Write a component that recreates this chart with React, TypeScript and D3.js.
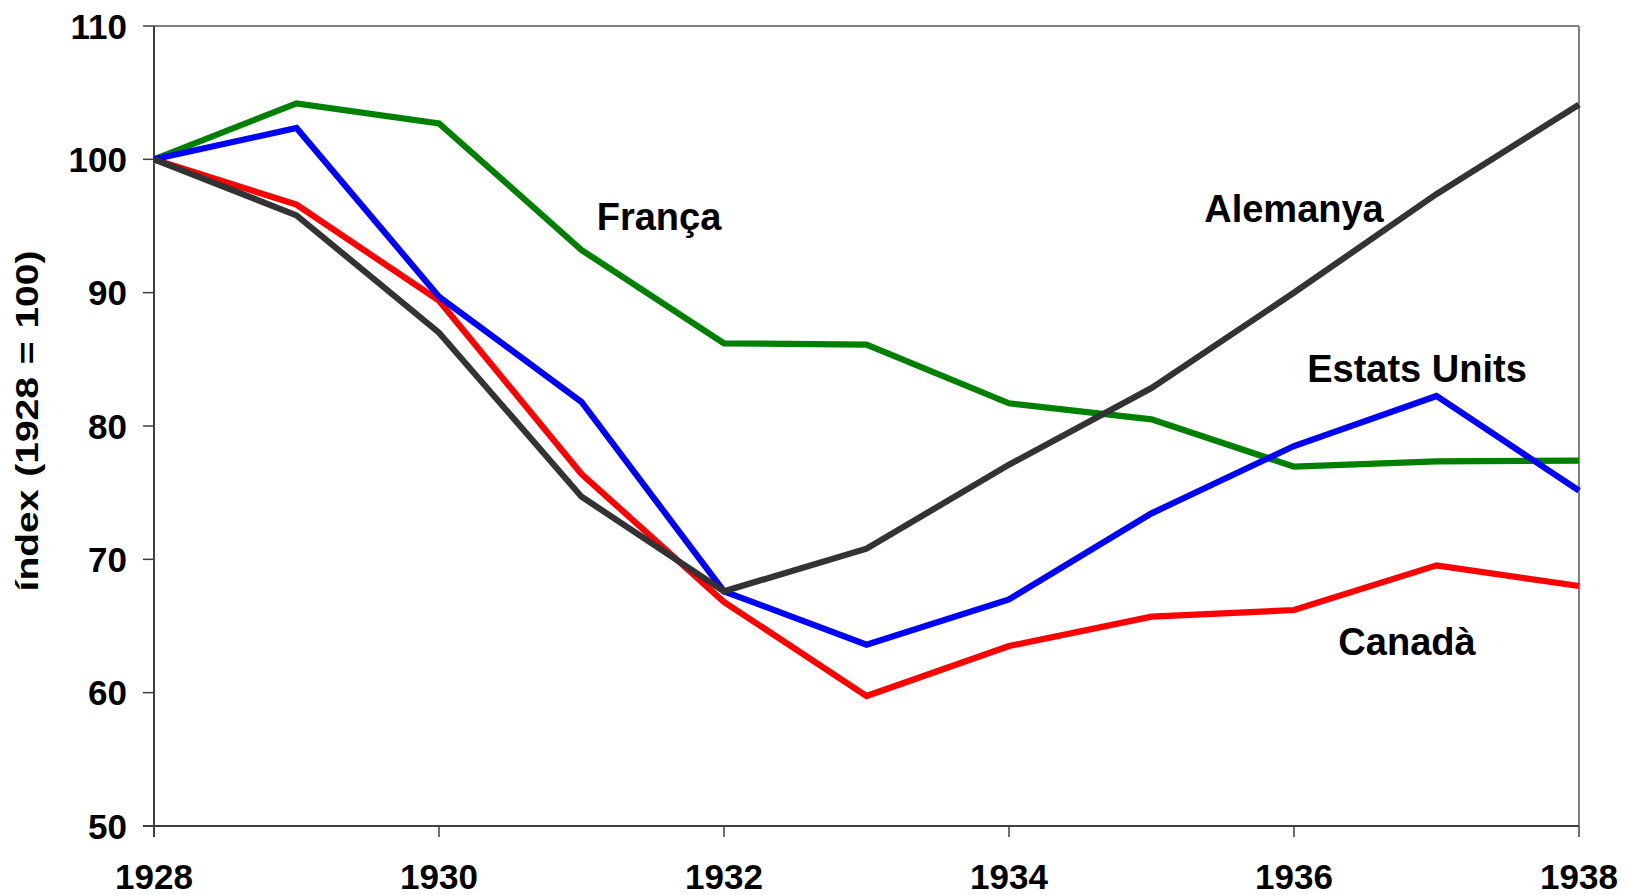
import React from "react";
import * as d3 from "d3";

const years = [1928, 1929, 1930, 1931, 1932, 1933, 1934, 1935, 1936, 1937, 1938];
const franca = [100, 104.2, 102.7, 93.2, 86.2, 86.1, 81.7, 80.5, 76.95, 77.35, 77.4];
const estatsUnits = [100, 102.35, 89.7, 81.8, 67.6, 63.6, 67.0, 73.45, 78.5, 82.25, 75.15];
const canada = [100, 96.6, 89.4, 76.4, 66.8, 59.75, 63.5, 65.7, 66.2, 69.55, 68.0];
const alemanya = [100, 95.8, 87.0, 74.7, 67.6, 70.8, 77.1, 82.85, 90.0, 97.4, 104.1];

const xTicks = [1928, 1930, 1932, 1934, 1936, 1938];
const yTicks = [50, 60, 70, 80, 90, 100, 110];

const series = [
  { name: "França", values: franca, color: "#008000" },
  { name: "Canadà", values: canada, color: "#FF0000" },
  { name: "Estats Units", values: estatsUnits, color: "#0000FF" },
  { name: "Alemanya", values: alemanya, color: "#333333" },
];

const labels = [
  { text: "França", x: 659, y: 230 },
  { text: "Alemanya", x: 1294, y: 222 },
  { text: "Estats Units", x: 1417, y: 382 },
  { text: "Canadà", x: 1407, y: 655 },
];

const W = 1627;
const H = 895;
const left = 154;
const right = 1579;
const top = 26;
const bottom = 826;

export default function App() {
  const x = d3.scaleLinear().domain([1928, 1938]).range([left, right]);
  const y = d3.scaleLinear().domain([50, 110]).range([bottom, top]);
  const line = d3
    .line<number>()
    .x((_, i) => x(years[i]))
    .y((v) => y(v));
  const font = "'Liberation Sans', Arial, sans-serif";

  return (
    <svg
      width={W}
      height={H}
      style={{ position: "absolute", left: 0, top: 0, background: "#fff" }}
      fontFamily={font}
    >
      <rect x={0} y={0} width={W} height={H} fill="#fff" />
      <line x1={left} x2={right} y1={top} y2={top} stroke="#808080" strokeWidth={2} />
      <line x1={right} x2={right} y1={top} y2={bottom} stroke="#808080" strokeWidth={2} />
      <line x1={left} x2={left} y1={top} y2={bottom + 11} stroke="#404040" strokeWidth={2} />
      <line x1={left - 11} x2={right} y1={bottom} y2={bottom} stroke="#404040" strokeWidth={2} />
      {yTicks.map((t) => (
        <g key={"y" + t}>
          <line x1={left - 11} x2={left} y1={y(t)} y2={y(t)} stroke="#404040" strokeWidth={1.5} />
          <text
            x={127}
            y={y(t)}
            dy="0.36em"
            textAnchor="end"
            fontSize={35}
            fontWeight="bold"
            fill="#000"
          >
            {t}
          </text>
        </g>
      ))}
      {xTicks.map((t) => (
        <g key={"x" + t}>
          <line x1={x(t)} x2={x(t)} y1={bottom} y2={bottom + 11} stroke="#404040" strokeWidth={1.5} />
          <text
            x={x(t)}
            y={889}
            textAnchor="middle"
            fontSize={35}
            fontWeight="bold"
            fill="#000"
          >
            {t}
          </text>
        </g>
      ))}
      <text
        transform={`translate(38,421) rotate(-90) scale(1,0.78)`}
        textAnchor="middle"
        fontSize={39}
        fontWeight="bold"
        fill="#000"
        wordSpacing={2}
      >
        índex (1928 = 100)
      </text>
      {series.map((s) => (
        <path
          key={s.name}
          d={line(s.values) || ""}
          fill="none"
          stroke={s.color}
          strokeWidth={6.2}
          strokeLinejoin="miter"
        />
      ))}
      {labels.map((l) => (
        <text
          key={l.text}
          x={l.x}
          y={l.y}
          textAnchor="middle"
          fontSize={38}
          fontWeight="bold"
          fill="#000"
        >
          {l.text}
        </text>
      ))}
    </svg>
  );
}
